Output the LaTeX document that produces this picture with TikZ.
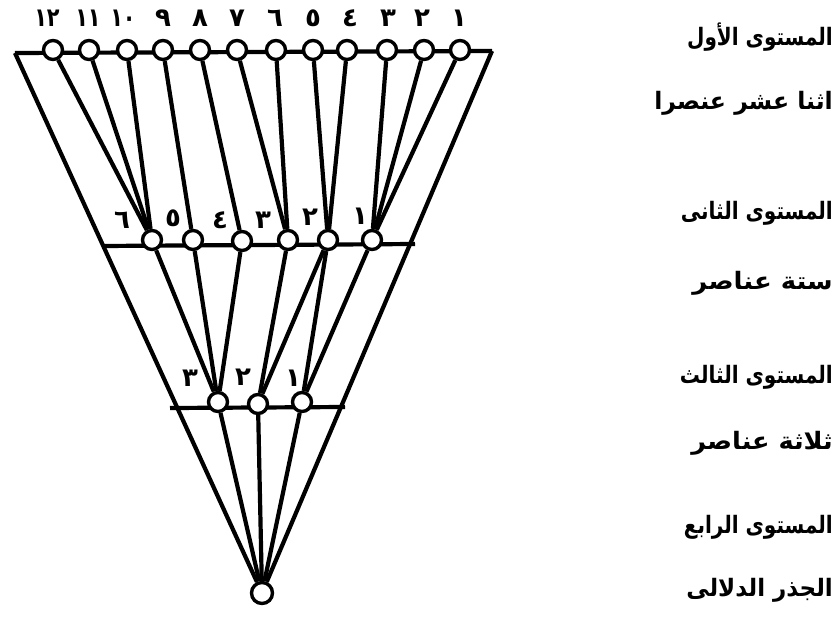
\documentclass[tikz,border=0pt]{standalone}
\usepackage{fontspec}
\usepackage{graphicx}
\newfontfamily\arabicfont[Script=Arabic]{DejaVu Sans}
\TeXXeTstate=1
\newcommand\twodig[1]{\scalebox{0.8}[1]{#1}}
\begin{document}
\begin{tikzpicture}[x=1pt,y=-1pt,
  dot/.style={circle, draw, fill=white, line width=3.4pt, minimum size=19pt, inner sep=0pt},
  con/.style={line width=4.2pt},
  lvl/.style={line width=4.2pt},
  num/.style={font=\arabicfont\bfseries\fontsize{26}{28}\selectfont, inner sep=0pt},
  lab/.style={anchor=east, inner sep=0pt, font=\arabicfont\bfseries\fontsize{20}{22}\selectfont}]
\useasboundingbox (0,0) rectangle (840,640);
% corners of the outer frame
\coordinate (tl) at (15,53);
\coordinate (tr) at (492,51);
\coordinate (l2l) at (102,246);
\coordinate (l2r) at (415,244);
\coordinate (l3l) at (170,408);
\coordinate (l3r) at (345,407);
% level lines
\draw[lvl] (tl) -- (tr);
\draw[lvl] (l2l) -- (l2r);
\draw[lvl] (l3l) -- (l3r);
% level 1 nodes
\node[dot] (a1) at (460,50) {};
\node[dot] (a2) at (424,50) {};
\node[dot] (a3) at (387,50) {};
\node[dot] (a4) at (347,50) {};
\node[dot] (a5) at (313,50) {};
\node[dot] (a6) at (276,50) {};
\node[dot] (a7) at (237,50) {};
\node[dot] (a8) at (200,50) {};
\node[dot] (a9) at (163,50) {};
\node[dot] (a10) at (127,50) {};
\node[dot] (a11) at (89,50) {};
\node[dot] (a12) at (53,50) {};
% level 2 nodes
\node[dot] (b1) at (372,240) {};
\node[dot] (b2) at (328,240) {};
\node[dot] (b3) at (288,240) {};
\node[dot] (b4) at (242,241) {};
\node[dot] (b5) at (193,240) {};
\node[dot] (b6) at (152,240) {};
% level 3 nodes
\node[dot] (c1) at (302,402) {};
\node[dot] (c2) at (258,404) {};
\node[dot] (c3) at (218,402) {};
% root
\node[dot, minimum size=21pt] (r) at (262,593) {};
% outer frame
\draw[con] (tl) -- (r);
\draw[con] (tr) -- (r);
% level 1 -> level 2
\draw[con] (a12) -- (b6);
\draw[con] (a11) -- (b6);
\draw[con] (a10) -- (b6);
\draw[con] (a9) -- (b5);
\draw[con] (a8) -- (b4);
\draw[con] (a7) -- (b3);
\draw[con] (a6) -- (b3);
\draw[con] (a5) -- (b2);
\draw[con] (a4) -- (b2);
\draw[con] (a3) -- (b1);
\draw[con] (a2) -- (b1);
\draw[con] (a1) -- (b1);
% level 2 -> level 3
\draw[con] (b6) -- (c3);
\draw[con] (b5) -- (c3);
\draw[con] (b4) -- (c3);
\draw[con] (b3) -- (c2);
\draw[con] (b2) -- (c2);
\draw[con] (b2) -- (c1);
\draw[con] (b1) -- (c1);
% level 3 -> root
\draw[con] (c3) -- (r);
\draw[con] (c2) -- (r);
\draw[con] (c1) -- (r);
% numbers level 1
\node[num] (n1) at (459,18) {١};
\node[num] (n2) at (422,18) {٢};
\node[num] (n3) at (388,18) {٣};
\node[num] (n4) at (350,18) {٤};
\node[num] (n5) at (313,18) {٥};
\node[num] (n6) at (275,18) {٦};
\node[num] (n7) at (237,18) {٧};
\node[num] (n8) at (200,18) {٨};
\node[num] (n9) at (163,18) {٩};
\node[num] (n10) at (123,18) {\twodig{١٠}};
\node[num] (n11) at (88,18) {\twodig{١١}};
\node[num] (n12) at (47,18) {\twodig{١٢}};
% numbers level 2
\node[num] (m1) at (360,216) {١};
\node[num] (m2) at (310,217) {٢};
\node[num] (m3) at (263,220) {٣};
\node[num] (m4) at (220,220) {٤};
\node[num] (m5) at (173,218) {٥};
\node[num] (m6) at (122,220) {٦};
% numbers level 3
\node[num] (k1) at (293,378) {١};
\node[num] (k2) at (243,377) {٢};
\node[num] (k3) at (190,378) {٣};
% right-hand labels
\node[lab] (t1) at (833,37) {\scalebox{1}[1.2]{\beginR المستوى الأول\endR}};
\node[lab] (t2) at (833,103) {\scalebox{1.18}[1.2]{\beginR اثنا عشر عنصرا\endR}};
\node[lab] (t3) at (833,213) {\scalebox{1}[1.2]{\beginR المستوى الثانى\endR}};
\node[lab] (t4) at (833,283) {\scalebox{1.3}[1.2]{\beginR ستة عناصر\endR}};
\node[lab] (t5) at (833,377) {\scalebox{1}[1.2]{\beginR المستوى الثالث\endR}};
\node[lab] (t6) at (833,443) {\scalebox{1.28}[1.2]{\beginR ثلاثة عناصر\endR}};
\node[lab] (t7) at (833,527) {\scalebox{1}[1.2]{\beginR المستوى الرابع\endR}};
\node[lab] (t8) at (833,590) {\scalebox{1.15}[1.2]{\beginR الجذر الدلالى\endR}};
\end{tikzpicture}
\end{document}
